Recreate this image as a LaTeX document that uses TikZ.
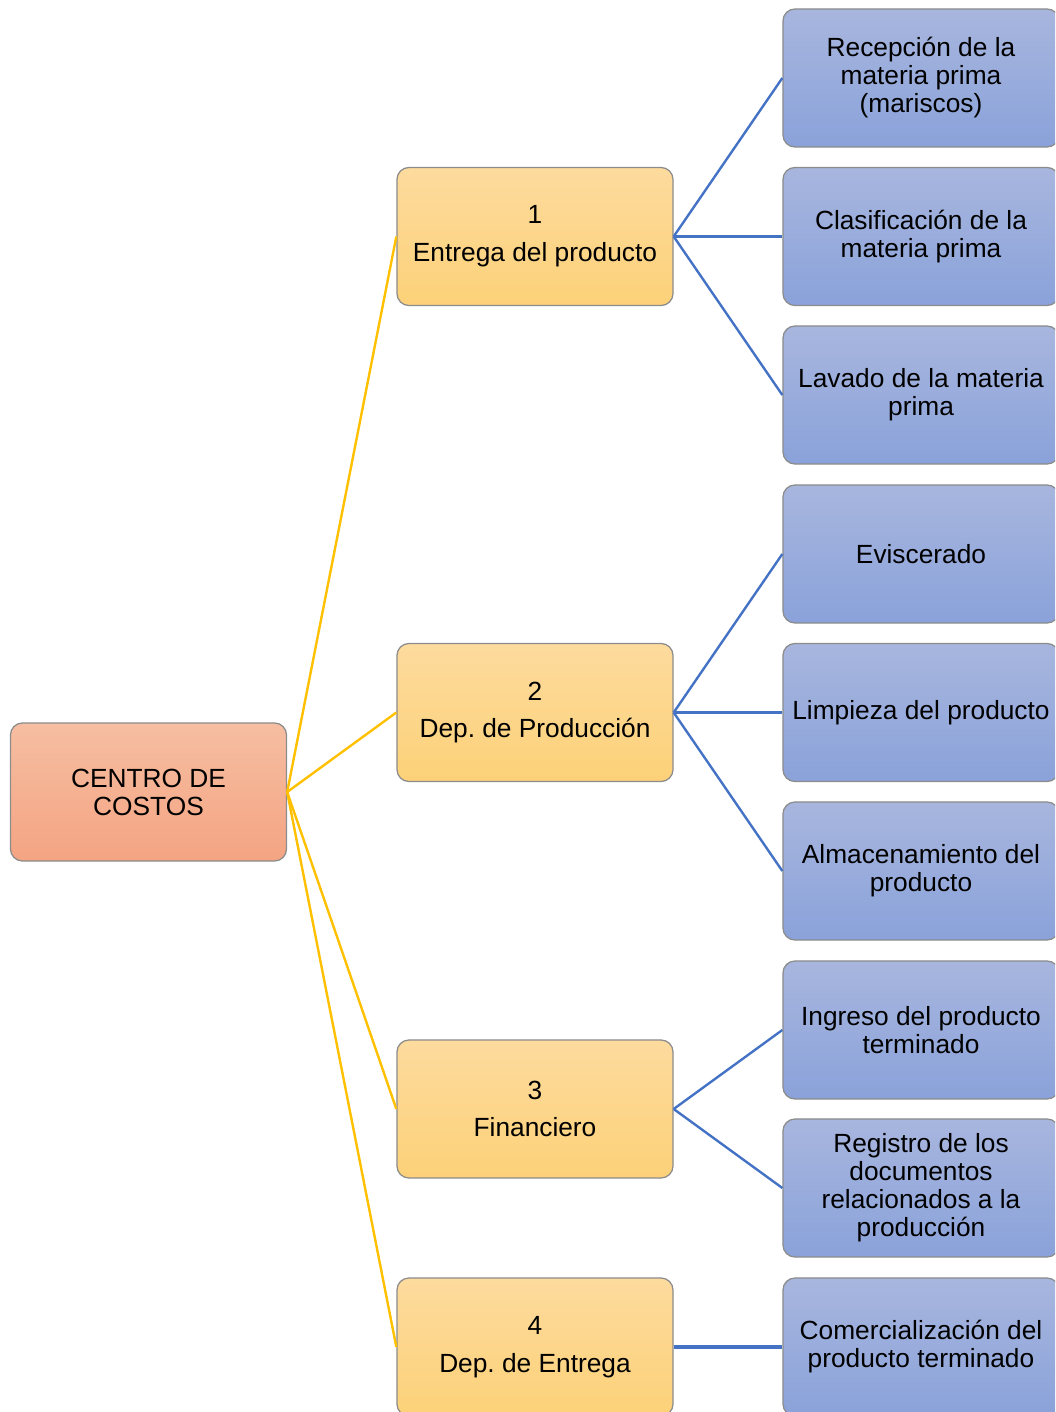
\documentclass[tikz,border=0pt]{standalone}
\usepackage{fontspec}
\setmainfont{Liberation Sans}
\frenchspacing
\definecolor{lineayellow}{HTML}{FFC000}
\definecolor{lineablue}{HTML}{4472C4}
\definecolor{borde}{HTML}{8C8C8C}
\tikzset{
  caja/.style={draw=borde, line width=0.9pt, rounded corners=0.3cm, align=center,
    minimum width=6.9cm, minimum height=3.45cm, inner sep=2pt,
    font=\fontsize{18.7}{19.9}\selectfont},
  centrobox/.style={caja, top color={rgb,255:red,246;green,190;blue,162}, bottom color={rgb,255:red,244;green,164;blue,130}},
  depbox/.style={caja, top color={rgb,255:red,253;green,219;blue,158}, bottom color={rgb,255:red,252;green,209;blue,120}},
  actbox/.style={caja, top color={rgb,255:red,168;green,182;blue,222}, bottom color={rgb,255:red,138;green,162;blue,218}},
  ramaA/.style={lineayellow, line width=1.7pt},
  ramaB/.style={lineablue, line width=1.7pt}
}
\begin{document}
\begin{tikzpicture}[x=0.025cm, y=-0.025cm]
    \useasboundingbox (0,0) rectangle (1055,1412);
    \clip (0,0) rectangle (1055,1412);
    % Centro
    \node[centrobox] (centro) at (148.5,792) {CENTRO DE\\COSTOS};
    % Departamentos
    \node[depbox] (dep1) at (535,236.5) {1\\[7pt]Entrega del producto};
    \node[depbox] (dep2) at (535,712.5) {2\\[7pt]Dep. de Producci\'on};
    \node[depbox] (dep3) at (535,1109) {3\\[7pt]Financiero};
    \node[depbox] (dep4) at (535,1347) {4\\[7pt]Dep. de Entrega};
    % Actividades
    \node[actbox] (act1) at (921,78) {Recepci\'on de la\\materia prima\\(mariscos)};
    \node[actbox] (act2) at (921,236.5) {Clasificaci\'on de la\\materia prima};
    \node[actbox] (act3) at (921,395) {Lavado de la materia\\prima};
    \node[actbox] (act4) at (921,554) {Eviscerado};
    \node[actbox] (act5) at (921,712.5) {Limpieza del producto};
    \node[actbox] (act6) at (921,871) {Almacenamiento del\\producto};
    \node[actbox] (act7) at (921,1030) {Ingreso del producto\\terminado};
    \node[actbox] (act8) at (921,1188) {Registro de los\\documentos\\relacionados a la\\producci\'on};
    \node[actbox] (act9) at (921,1347) {Comercializaci\'on del\\producto terminado};
    % Ramas
    \foreach \d in {1,...,4}
      \draw[ramaA] (centro.east) -- (dep\d.west);
    \foreach \a in {1,2,3}
      \draw[ramaB] (dep1.east) -- (act\a.west);
    \foreach \a in {4,5,6}
      \draw[ramaB] (dep2.east) -- (act\a.west);
    \foreach \a in {7,8}
      \draw[ramaB] (dep3.east) -- (act\a.west);
    \draw[ramaB, line width=2.2pt] (dep4.east) -- (act9.west);
\end{tikzpicture}
\end{document}
